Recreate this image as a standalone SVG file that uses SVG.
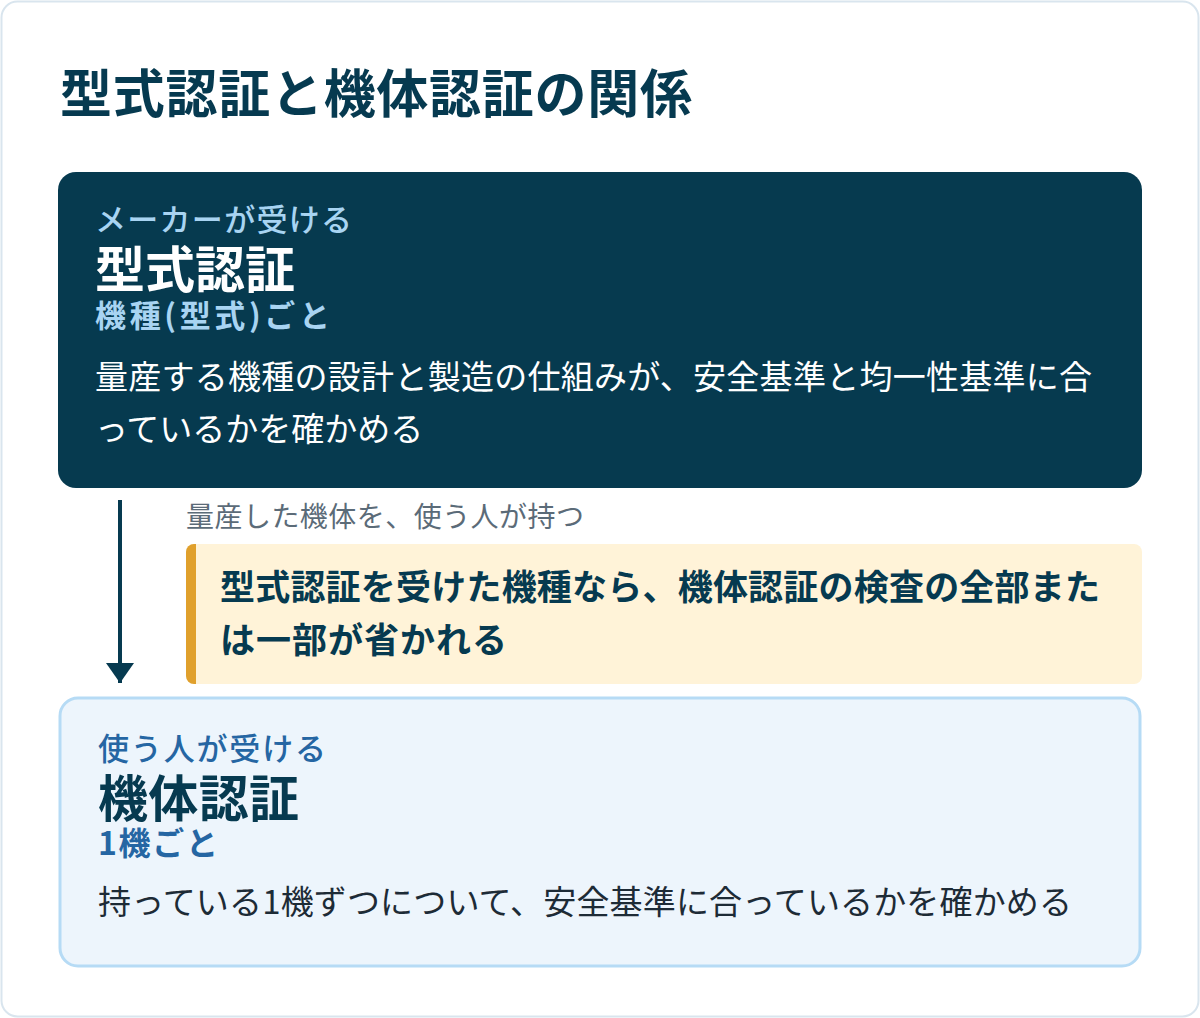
<svg xmlns="http://www.w3.org/2000/svg" width="1200" height="1018" viewBox="0 0 1200 1018">
<style>
text{font-family:"Noto Sans CJK JP","Noto Sans",sans-serif}
.b{font-weight:700}
.m{font-weight:500}
</style>
<defs>
<marker id="ah" markerWidth="20" markerHeight="28" refX="20" refY="14" orient="auto" markerUnits="userSpaceOnUse" viewBox="0 0 20 28">
<path d="M0,0 L20,14 L0,28 Z" fill="#063a50"/>
</marker>
</defs>
<rect x="1.5" y="1.5" width="1197" height="1015" rx="16" fill="#fff" stroke="#d9e5ee" stroke-width="2"/>
<text x="60" y="113" class="b" font-size="52" textLength="632" lengthAdjust="spacing" fill="#063a50">型式認証と機体認証の関係</text>
<g id="type-cert">
<rect x="58" y="172" width="1084" height="316" rx="18" fill="#063a4f"/>
<text x="95" y="231" class="m" font-size="31" textLength="257" lengthAdjust="spacing" fill="#a8d4f2">メーカーが受ける</text>
<text x="95" y="288" class="b" font-size="50" textLength="200" lengthAdjust="spacing" fill="#ffffff">型式認証</text>
<text x="95" y="327" class="b" font-size="31" textLength="235" lengthAdjust="spacing" fill="#a8d4f2">機種(型式)ごと</text>
<text x="95" y="389" font-size="33" textLength="997" lengthAdjust="spacing" fill="#ffffff">量産する機種の設計と製造の仕組みが、安全基準と均一性基準に合</text>
<text x="95" y="441" font-size="33" fill="#ffffff">っているかを確かめる</text>
</g>
<g id="connectors">
<line x1="120" y1="500" x2="120" y2="683" stroke="#063a50" stroke-width="4" marker-end="url(#ah)"/>
<text x="186" y="527" font-size="28" textLength="398" lengthAdjust="spacing" fill="#5b6b78">量産した機体を、使う人が持つ</text>
</g>
<g id="note">
<rect x="186" y="544" width="956" height="140" rx="8" fill="#fff3d8"/>
<path d="M194,544 L196,544 L196,684 L194,684 A8,8 0 0 1 186,676 L186,552 A8,8 0 0 1 194,544 Z" fill="#e0a02c"/>
<text x="220" y="600" class="b" font-size="35" textLength="880" lengthAdjust="spacing" fill="#063a50">型式認証を受けた機種なら、機体認証の検査の全部また</text>
<text x="220" y="653" class="b" font-size="35" textLength="287" lengthAdjust="spacing" fill="#063a50">は一部が省かれる</text>
</g>
<g id="airframe-cert">
<rect x="60" y="698" width="1080" height="268" rx="18" fill="#edf5fc" stroke="#b6dbf5" stroke-width="3"/>
<text x="98" y="760" class="m" font-size="31" textLength="228" lengthAdjust="spacing" fill="#2566a3">使う人が受ける</text>
<text x="98" y="817" class="b" font-size="50" textLength="201" lengthAdjust="spacing" fill="#063a50">機体認証</text>
<text x="98" y="855" class="b" font-size="32" textLength="120" lengthAdjust="spacing" fill="#2566a3">1機ごと</text>
<text x="98" y="914" font-size="33" textLength="974" lengthAdjust="spacing" fill="#1d2b36">持っている1機ずつについて、安全基準に合っているかを確かめる</text>
</g>
</svg>
